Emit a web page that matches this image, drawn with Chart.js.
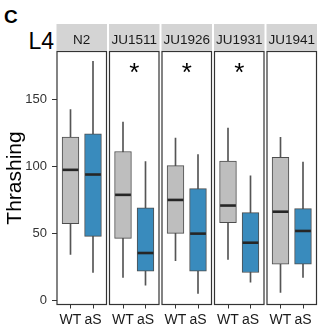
<!DOCTYPE html>
<html>
<head>
<meta charset="utf-8">
<script src="https://cdn.jsdelivr.net/npm/chart.js@4.4.1/dist/chart.umd.min.js"></script>
<style>
  html, body { margin: 0; padding: 0; background: #fff; }
  #wrap { position: relative; width: 325px; height: 335px; overflow: hidden;
          font-family: "Liberation Sans", Arial, sans-serif; }
  #wrap canvas { position: absolute; left: 0; top: 0; }
  .tag { position: absolute; line-height: 1; white-space: nowrap; color: #000; }
</style>
</head>
<body>
<div id="wrap">
  <div class="tag" style="left:4px; top:7px; font-size:19px; font-weight:bold;">C</div>
  <div class="tag" style="left:28.5px; top:30px; font-size:23px;">L4</div>
</div>
<script>
// strains (facets) and genotypes within each facet
const strains = ['N2', 'JU1511', 'JU1926', 'JU1931', 'JU1941'];
const groups = ['WT', 'aS'];
const starred = [false, true, true, true, false];
const starLevel = 175;

// box stats per strain, WT
const wtLow  = [34.3, 17.0, 29.5, 30.5, 5.8];
const wtQ1   = [57.2, 46.2, 50.0, 58.0, 27.0];
const wtMed  = [97.5, 78.8, 75.0, 70.8, 66.2];
const wtQ3   = [122.0, 111.2, 100.7, 104.0, 106.8];
const wtHigh = [142.5, 133.2, 121.2, 128.8, 121.8];

// box stats per strain, aS
const asLow  = [20.7, 11.3, 5.0, 13.5, 17.0];
const asQ1   = [47.7, 21.8, 21.8, 20.7, 27.0];
const asMed  = [94.0, 35.3, 49.8, 43.0, 51.8];
const asQ3   = [124.5, 69.0, 83.5, 65.5, 68.5];
const asHigh = [178.7, 103.7, 109.0, 93.0, 103.3];

const yTicks = [0, 50, 100, 150];

const stats = [
  { low: wtLow, q1: wtQ1, med: wtMed, q3: wtQ3, high: wtHigh },
  { low: asLow, q1: asQ1, med: asMed, q3: asQ3, high: asHigh }
];
const fills = ['#bebebe', '#398bbd'];

const W = 325, H = 335;
const panelLeft = [57, 109.5, 162, 214.5, 267];
const panelWidth = 49.5;
const plotTop = 51.5, plotBottom = 304.5;
const stripTop = 24;
const boxWidth = 16.8;
const fontFamily = '"Liberation Sans", Arial, sans-serif';

Chart.defaults.font.family = fontFamily;

// medians, panel frame, strip header and significance star
const facetPlugin = {
  id: 'facet',
  afterDatasetsDraw(chart, args, opts) {
    const ctx = chart.ctx;
    const a = chart.chartArea;
    const x = chart.scales.x, y = chart.scales.y;
    ctx.save();

    ctx.strokeStyle = '#262626';
    ctx.lineWidth = 2.6;
    stats.forEach((s, k) => {
      const cx = x.getPixelForValue(k + 1);
      const py = y.getPixelForValue(s.med[opts.index]);
      ctx.beginPath();
      ctx.moveTo(cx - boxWidth / 2 + 0.5, py);
      ctx.lineTo(cx + boxWidth / 2 - 0.5, py);
      ctx.stroke();
    });

    ctx.strokeStyle = '#333';
    ctx.lineWidth = 1.2;
    ctx.strokeRect(a.left, a.top, a.right - a.left, a.bottom - a.top);

    ctx.fillStyle = '#d4d4d4';
    ctx.fillRect(a.left - 0.5, stripTop, a.right - a.left + 1, a.top - stripTop - 0.5);
    ctx.fillStyle = '#1a1a1a';
    ctx.font = '13.5px ' + fontFamily;
    ctx.textAlign = 'center';
    ctx.textBaseline = 'alphabetic';
    ctx.fillText(strains[opts.index], (a.left + a.right) / 2, 44);

    if (starred[opts.index]) {
      ctx.fillStyle = '#000';
      ctx.font = '26px ' + fontFamily;
      ctx.fillText('*', (a.left + a.right) / 2, y.getPixelForValue(starLevel) + 0.575 * 26);
    }
    ctx.restore();
  }
};

const wrap = document.getElementById('wrap');

function makePanel(i) {
  const canvas = document.createElement('canvas');
  canvas.width = W;
  canvas.height = H;
  wrap.appendChild(canvas);

  const first = i === 0;
  const left = panelLeft[i];
  const right = left + panelWidth;

  new Chart(canvas, {
    type: 'bar',
    data: {
      datasets: [
        {
          data: stats.map((s, k) => ({ x: k + 1, y: [s.q1[i], s.q3[i]] })),
          backgroundColor: fills,
          borderColor: '#4d4d4d',
          borderWidth: 1,
          borderSkipped: false,
          grouped: false,
          barThickness: boxWidth,
          order: 0
        },
        {
          data: stats.map((s, k) => ({ x: k + 1, y: [s.low[i], s.high[i]] })),
          backgroundColor: '#555',
          grouped: false,
          barThickness: 1,
          order: 1
        }
      ]
    },
    options: {
      responsive: false,
      animation: false,
      devicePixelRatio: 1,
      layout: { padding: { left: first ? 0 : left, right: W - right, top: plotTop, bottom: 0 } },
      plugins: {
        legend: { display: false },
        tooltip: { enabled: false },
        facet: { index: i }
      },
      scales: {
        x: {
          type: 'linear',
          offset: false,
          min: 0.4,
          max: 2.6,
          afterBuildTicks: s => { s.ticks = groups.map((g, k) => ({ value: k + 1 })); },
          afterFit: s => {
            s.height = H - plotBottom;
            s.paddingLeft = 0; s.paddingRight = 0;
          },
          ticks: {
            callback: v => groups[v - 1],
            color: '#1a1a1a',
            font: { size: 14 },
            padding: 3,
            maxRotation: 0,
            autoSkip: false
          },
          grid: { offset: false, drawOnChartArea: false, tickLength: 4, color: '#333' },
          border: { display: false }
        },
        y: {
          display: first,
          min: -3.2,
          max: 186,
          afterBuildTicks: s => { s.ticks = yTicks.map(v => ({ value: v })); },
          afterFit: s => {
            if (first) s.width = left;
            s.paddingTop = 0; s.paddingBottom = 0;
          },
          ticks: { color: '#333', font: { size: 13 }, padding: 5 },
          grid: { drawOnChartArea: false, tickLength: 5, color: '#333' },
          border: { display: false },
          title: {
            display: true,
            text: 'Thrashing',
            color: '#000',
            font: { size: 21 },
            padding: { top: 2.5, bottom: 0 }
          }
        }
      }
    },
    plugins: [facetPlugin]
  });
}

strains.forEach((s, i) => makePanel(i));
</script>
</body>
</html>
